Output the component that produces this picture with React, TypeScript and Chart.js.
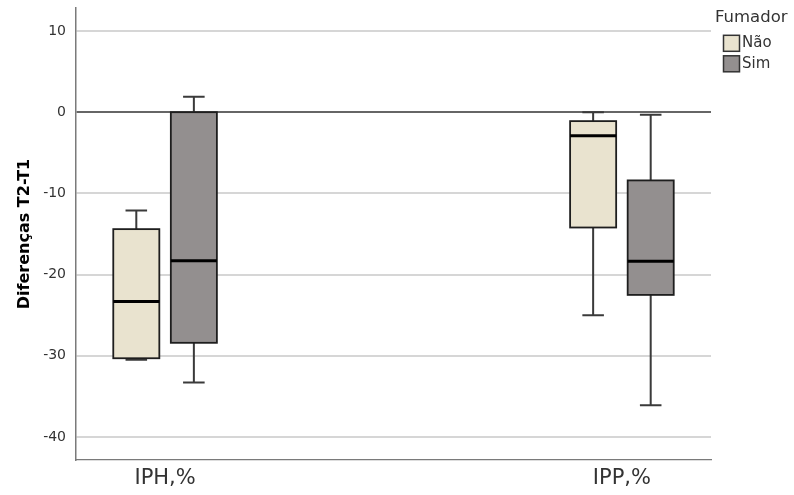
import React, { useEffect, useRef } from 'react';
import { Chart, registerables } from 'chart.js';

Chart.register(...registerables);

// Categories on the horizontal axis
const groups = ['IPH,%', 'IPP,%'];
// Smoker status series
const smokerLabels = ['Não', 'Sim'];

// Five-number summaries, one entry per group (IPH, IPP)
const naoMin = [-30.5, -25.0];
const naoQ1 = [-30.3, -14.2];
const naoMedian = [-23.3, -2.9];
const naoQ3 = [-14.4, -1.1];
const naoMax = [-12.1, 0];

const simMin = [-33.3, -36.1];
const simQ1 = [-28.4, -22.5];
const simMedian = [-18.3, -18.35];
const simQ3 = [0, -8.4];
const simMax = [1.9, -0.3];

// Value axis
const yTicks = [10, 0, -10, -20, -30, -40];
const yMin = -42.83;
const yMax = 12.83;

const yTitle = 'Diferenças T2-T1';
const legendTitle = 'Fumador';

const FONT = 'DejaVu Sans';

// Box geometry, in category-step units
const SERIES_SHIFT = [-0.063, 0.063];
const BOX_HALF = 0.0504;
const CAP_HALF = 0.0236;

const series = [
  { label: smokerLabels[0], min: naoMin, q1: naoQ1, median: naoMedian, q3: naoQ3, max: naoMax, fill: '#E9E3CF' },
  { label: smokerLabels[1], min: simMin, q1: simQ1, median: simMedian, q3: simQ3, max: simMax, fill: '#938F8F' },
];

const boxPlotPlugin = {
  id: 'boxPlot',
  afterDatasetsDraw(chart: any) {
    const { ctx } = chart;
    const x = chart.scales.x;
    const y = chart.scales.y;
    const unit = x.getPixelForValue(1) - x.getPixelForValue(0);
    const halfBox = unit * BOX_HALF;
    const halfCap = unit * CAP_HALF;
    ctx.save();
    series.forEach((s, si) => {
      groups.forEach((_, gi) => {
        const cx = x.getPixelForValue(gi + SERIES_SHIFT[si]);
        const pMin = y.getPixelForValue(s.min[gi]);
        const pQ1 = y.getPixelForValue(s.q1[gi]);
        const pMed = y.getPixelForValue(s.median[gi]);
        const pQ3 = y.getPixelForValue(s.q3[gi]);
        const pMax = y.getPixelForValue(s.max[gi]);

        // whiskers and caps
        ctx.strokeStyle = '#3a3a3a';
        ctx.lineWidth = 2;
        ctx.beginPath();
        ctx.moveTo(cx, pQ3);
        ctx.lineTo(cx, pMax);
        ctx.moveTo(cx - halfCap, pMax);
        ctx.lineTo(cx + halfCap, pMax);
        ctx.moveTo(cx, pQ1);
        ctx.lineTo(cx, pMin);
        ctx.moveTo(cx - halfCap, pMin);
        ctx.lineTo(cx + halfCap, pMin);
        ctx.stroke();

        // interquartile box
        ctx.fillStyle = s.fill;
        ctx.fillRect(cx - halfBox, pQ3, halfBox * 2, pQ1 - pQ3);
        ctx.strokeStyle = '#1e1e1e';
        ctx.lineWidth = 1.8;
        ctx.strokeRect(cx - halfBox, pQ3, halfBox * 2, pQ1 - pQ3);

        // median
        ctx.strokeStyle = '#000';
        ctx.lineWidth = 3;
        ctx.beginPath();
        ctx.moveTo(cx - halfBox, pMed);
        ctx.lineTo(cx + halfBox, pMed);
        ctx.stroke();
      });
    });
    ctx.restore();
  },
};

const legendPlugin = {
  id: 'smokerLegend',
  afterDraw(chart: any) {
    const { ctx, chartArea } = chart;
    const left = chartArea.right + 4;
    ctx.save();
    ctx.textAlign = 'left';
    ctx.textBaseline = 'middle';
    ctx.fillStyle = '#333';
    ctx.font = `16.5px "${FONT}"`;
    ctx.fillText(legendTitle, left, 18);
    ctx.font = `15px "${FONT}"`;
    chart.data.datasets.forEach((ds: any, i: number) => {
      const yc = 43.3 + i * 20.5;
      ctx.fillStyle = ds.backgroundColor;
      ctx.fillRect(left + 8.5, yc - 8, 16, 16);
      ctx.strokeStyle = '#333';
      ctx.lineWidth = 1.5;
      ctx.strokeRect(left + 8.5, yc - 8, 16, 16);
      ctx.fillStyle = '#333';
      ctx.fillText(ds.label, left + 27, yc);
    });
    ctx.restore();
  },
};

export default function App() {
  const canvasRef = useRef<HTMLCanvasElement>(null);

  useEffect(() => {
    const canvas = canvasRef.current;
    if (!canvas) return;
    const chart = new Chart(canvas, {
      type: 'scatter',
      data: {
        datasets: series.map((s, si) => ({
          label: s.label,
          data: groups.map((_, gi) => ({ x: gi + SERIES_SHIFT[si], y: s.median[gi] })),
          backgroundColor: s.fill,
          borderColor: '#333',
          pointRadius: 0,
        })),
      },
      options: {
        responsive: false,
        animation: false,
        events: [],
        layout: { padding: { top: 8, right: 83, bottom: 0, left: 0 } },
        plugins: {
          legend: { display: false },
          tooltip: { enabled: false },
        },
        scales: {
          x: {
            type: 'linear',
            min: -0.195,
            max: 1.195,
            afterBuildTicks: (axis: any) => {
              axis.ticks = groups.map((_, i) => ({ value: i }));
            },
            afterFit: (axis: any) => {
              axis.height = 35;
              axis.paddingLeft = 0;
              axis.paddingRight = 0;
            },
            grid: { display: false, drawTicks: false },
            border: { display: true, color: '#7a7a7a', width: 1.2 },
            ticks: {
              callback: (v: any) => groups[v] ?? '',
              font: { family: FONT, size: 21 },
              color: '#333',
              padding: 6,
              maxRotation: 0,
              autoSkip: false,
            },
          },
          y: {
            type: 'linear',
            min: yMin,
            max: yMax,
            afterBuildTicks: (axis: any) => {
              axis.ticks = yTicks.map((v) => ({ value: v }));
            },
            afterFit: (axis: any) => {
              axis.width = 76;
              axis.paddingTop = 0;
              axis.paddingBottom = 0;
            },
            grid: {
              drawTicks: false,
              color: (c: any) => (c.tick && c.tick.value === 0 ? '#666666' : '#d6d6d6'),
              lineWidth: 2,
            },
            border: { display: true, color: '#7a7a7a', width: 1.5 },
            ticks: {
              font: { family: FONT, size: 14 },
              color: '#333',
              padding: 10,
              callback: (v: any) => String(v),
            },
            title: {
              display: true,
              text: yTitle,
              font: { family: FONT, size: 16, weight: 'bold' },
              color: '#000',
              padding: { top: 15, bottom: 0 },
            },
          },
        },
      },
      plugins: [boxPlotPlugin, legendPlugin],
    } as any);
    return () => chart.destroy();
  }, []);

  return (
    <div style={{ position: 'absolute', left: 0, top: 0, width: 794, height: 495, background: '#fff' }}>
      <canvas ref={canvasRef} width={794} height={495} style={{ display: 'block', width: 794, height: 495 }} />
    </div>
  );
}
